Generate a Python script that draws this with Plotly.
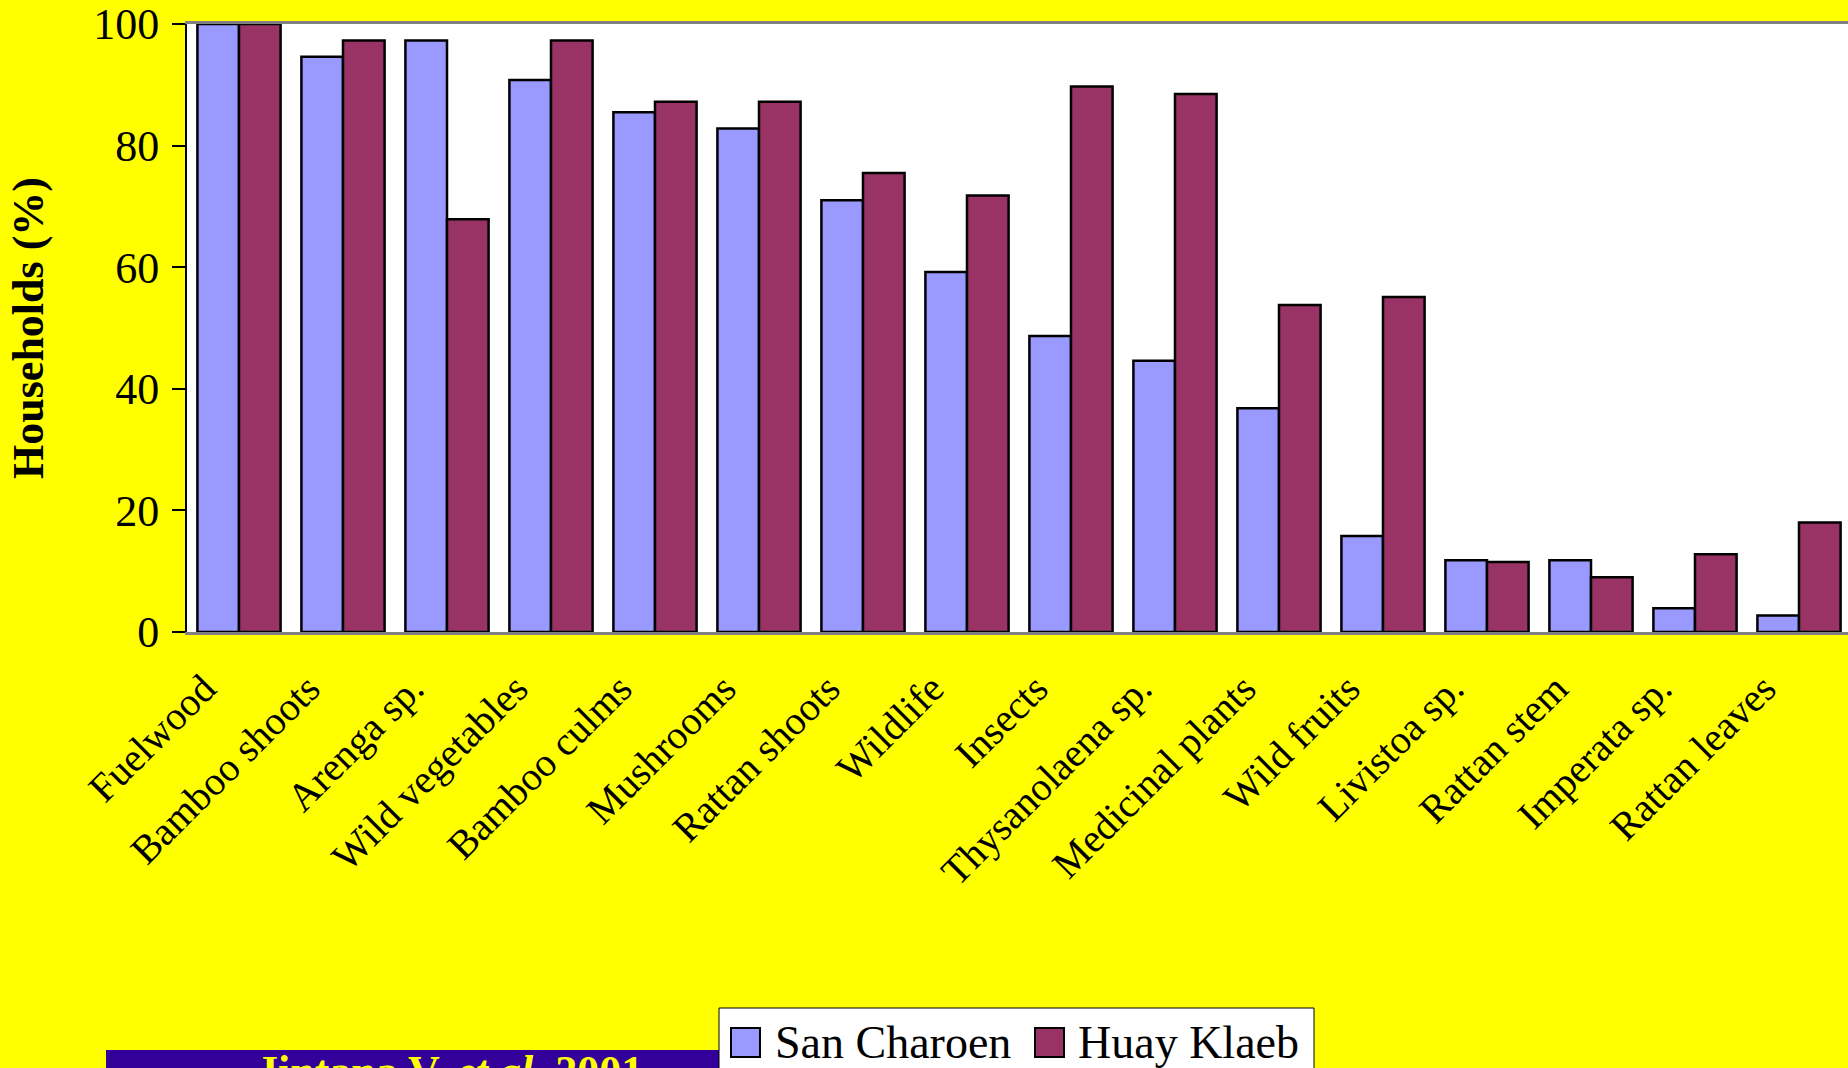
import plotly.graph_objects as go

# Non-timber forest products collected by households in two villages
categories = [
    "Fuelwood", "Bamboo shoots", "Arenga sp.", "Wild vegetables", "Bamboo culms",
    "Mushrooms", "Rattan shoots", "Wildlife", "Insects", "Thysanolaena sp.",
    "Medicinal plants", "Wild fruits", "Livistoa sp.", "Rattan stem",
    "Imperata sp.", "Rattan leaves",
]
san_charoen = [100, 94.6, 97.3, 90.8, 85.5, 82.8, 71.0, 59.2, 48.7, 44.6,
               36.8, 15.8, 11.8, 11.8, 3.9, 2.7]
huay_klaeb = [100, 97.3, 67.9, 97.3, 87.2, 87.2, 75.5, 71.8, 89.7, 88.5,
              53.8, 55.1, 11.5, 9.0, 12.8, 18.0]
series_names = ["San Charoen", "Huay Klaeb"]
series_colors = ["#9999FF", "#993366"]
y_ticks = [0, 20, 40, 60, 80, 100]
source_text = "Jintana V. <i>et al.</i> 2001"

W, H = 1848, 1068
ML, MR, MT, MB = 187, 0, 24, 436
PW, PH = W - ML - MR, H - MT - MB
SERIF = "Liberation Serif, Times New Roman, serif"


def px_x(px):
    return (px - ML) / PW


def px_y(py):
    return (H - MB - py) / PH


fig = go.Figure()
for name, vals, col in zip(series_names, [san_charoen, huay_klaeb], series_colors):
    fig.add_trace(go.Bar(
        x=list(range(len(categories))), y=vals, name=name,
        marker=dict(color=col, line=dict(color="black", width=2.5)),
        showlegend=False,
    ))

# category pitch is ~104 px; the last group runs slightly past the right edge
pitch = 104.0
x_end = -0.5 + PW / pitch

shapes = [
    # citation banner
    dict(type="rect", xref="paper", yref="paper",
         x0=px_x(106), x1=px_x(719), y0=px_y(1090), y1=px_y(1050),
         fillcolor="#330099", line=dict(width=0), layer="above"),
    # legend frame
    dict(type="rect", xref="paper", yref="paper",
         x0=px_x(719), x1=px_x(1314), y0=px_y(1090), y1=px_y(1008),
         fillcolor="white", line=dict(color="black", width=1), layer="above"),
]
annotations = [
    dict(text=f"<b>{source_text}</b>", xref="paper", yref="paper",
         x=px_x(449), y=px_y(1045), xanchor="center", yanchor="top",
         showarrow=False, font=dict(family=SERIF, size=44, color="#FFFF00")),
]

# legend entries
swatch_x = [731, 1035]
label_x = [773, 1076]
for name, col, sx, lx in zip(series_names, series_colors, swatch_x, label_x):
    shapes.append(dict(type="rect", xref="paper", yref="paper",
                       x0=px_x(sx), x1=px_x(sx + 29), y0=px_y(1057), y1=px_y(1028),
                       fillcolor=col, line=dict(color="black", width=2), layer="above"))
    annotations.append(dict(text=name, xref="paper", yref="paper",
                            x=px_x(lx), y=px_y(1042), xanchor="left", yanchor="middle",
                            showarrow=False,
                            font=dict(family=SERIF, size=46, color="black")))

fig.update_layout(
    width=W, height=H,
    margin=dict(l=ML, r=MR, t=MT, b=MB, autoexpand=False),
    paper_bgcolor="#FFFF00", plot_bgcolor="white",
    barmode="group", bargap=0.2, bargroupgap=0,
    shapes=shapes, annotations=annotations,
    font=dict(family=SERIF, color="black"),
    xaxis=dict(
        tickmode="array", tickvals=list(range(len(categories))), ticktext=categories,
        range=[-0.5, x_end], tickangle=-45, ticks="",
        ticklabelshift=-35, ticklabelstandoff=14,
        tickfont=dict(family=SERIF, size=40, color="black"),
        showline=True, linecolor="#808080", linewidth=3, mirror=True,
        showgrid=False, zeroline=False, automargin=False,
    ),
    yaxis=dict(
        range=[0, 100], tickvals=y_ticks, ticks="outside", ticklen=13,
        tickwidth=1.5, tickcolor="black", ticklabelstandoff=4,
        tickfont=dict(family=SERIF, size=44, color="black"),
        showline=True, linecolor="black", linewidth=2,
        showgrid=False, zeroline=False, automargin=False,
        title=dict(text="Households (%)", standoff=36,
                   font=dict(family=SERIF, size=44, color="black", weight="bold")),
    ),
)

fig.write_html("out.html")
